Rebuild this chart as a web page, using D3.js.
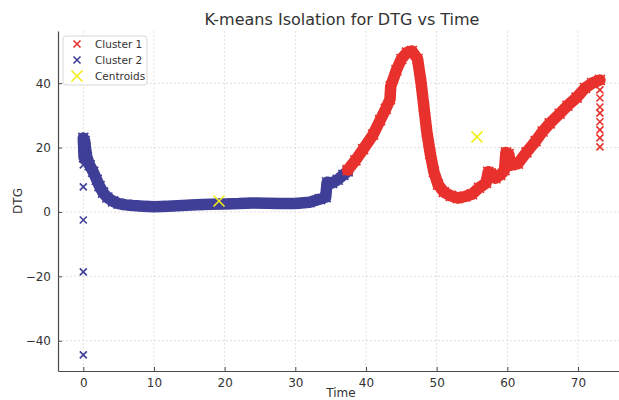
<!DOCTYPE html>
<html>
<head>
<meta charset="utf-8">
<script src="https://cdn.jsdelivr.net/npm/d3@7"></script>
<style>
  body { margin: 0; background: #fff; }
  text { font-family: "DejaVu Sans", sans-serif; fill: #333; }
</style>
</head>
<body>
<div id="chart-area"></div>
<script>
// size of the page
const width = 619;
const height = 400;

// Cluster 2 (blue)
const cluster2Time = [0, 0.1, 0.2, 0.3, 0.5, 0.9, 1.4, 1.9, 2.3, 2.8, 3.4, 4.2, 5, 6, 7, 8.5, 10, 12, 14, 16, 18, 20, 22, 24, 26, 28, 30, 32, 33.5, 34.3, 34.5, 35.2, 36, 36.8, 37.4];
const cluster2DTG = [23, 17, 22, 20, 17, 14.5, 12.5, 10, 8, 6, 4.5, 3.3, 2.6, 2.2, 2, 1.8, 1.6, 1.8, 2, 2.2, 2.4, 2.5, 2.6, 2.8, 2.7, 2.6, 2.6, 3.0, 4.0, 4.6, 9.2, 9, 10, 11.5, 12.6];
// stray cluster 2 points at Time 0
const cluster2OutTime = [0, 0, 0, 0, 0];
const cluster2OutDTG = [14.6, 7.8, -2.5, -18.6, -44.4];

// Cluster 1 (red)
const cluster1Time = [37.4, 38.5, 39.6, 41, 42, 42.8, 43.4, 43.5, 44.3, 45, 45.8, 46.5, 47.3, 47.8, 48.2, 48.6, 49.1, 49.6, 50.2, 51, 52, 53, 54, 55, 56, 57, 57.3, 57.7, 58.3, 59, 59.6, 59.8, 60.2, 60.5, 61.5, 62.7, 64, 65, 66, 67.4, 68.5, 69.8, 71, 72, 73.1];
const cluster1DTG = [13, 16, 19.5, 24, 28.5, 32, 35, 39, 44, 47.5, 49.5, 50, 47.5, 40, 32.5, 25, 18, 12.5, 8.5, 6.2, 5, 4.3, 4.8, 5.5, 7.5, 9, 12.5, 12, 10.5, 11.5, 13, 18.5, 18, 14.5, 15, 18.5, 22, 25, 27.5, 30.5, 33, 35.5, 38.5, 40, 41];
// stacked cluster 1 points at the end
const cluster1EndTime = [73.1, 73.1, 73.1, 73.1, 73.1, 73.1, 73.1, 73.1];
const cluster1EndDTG = [37.9, 35.4, 32.6, 30.7, 28, 25.5, 23, 20.2];

// centroids
const centroidTime = [19.2, 55.7];
const centroidDTG = [3.4, 23.3];

const xTicks = [0, 10, 20, 30, 40, 50, 60, 70];
const yTicks = [-40, -20, 0, 20, 40];
const legendLabels = ["Cluster 1", "Cluster 2", "Centroids"];

const red = "#e8312d";
const blue = "#3f3f98";
const yellow = "#f2ee1a";

const zip = (a, b) => a.map((t, i) => [t, b[i]]);

let xScale = d3.scaleLinear().domain([-3.58, 75.8]).range([58, 619]);
let yScale = d3.scaleLinear().domain([-49.4, 56.2]).range([371, 31]);

let svg = d3.select("#chart-area")
  .append("svg")
  .attr("width", width)
  .attr("height", height);

// grid
svg.append("g").selectAll("line")
  .data(xTicks).enter().append("line")
  .attr("x1", d => xScale(d)).attr("x2", d => xScale(d))
  .attr("y1", 31).attr("y2", 371)
  .attr("stroke", "#ddd5d5").attr("stroke-dasharray", "2,2").attr("stroke-width", 0.8);
svg.append("g").selectAll("line")
  .data(yTicks).enter().append("line")
  .attr("x1", 58).attr("x2", 619)
  .attr("y1", d => yScale(d)).attr("y2", d => yScale(d))
  .attr("stroke", "#ddd5d5").attr("stroke-dasharray", "2,2").attr("stroke-width", 0.8);

// x marker shape
function cross(s) {
  return `M${-s},${-s}L${s},${s}M${-s},${s}L${s},${-s}`;
}

let line = d3.line().x(d => xScale(d[0])).y(d => yScale(d[1]));

function drawCluster(pts, color) {
  svg.append("path")
    .datum(pts)
    .attr("d", line)
    .attr("fill", "none")
    .attr("stroke", color)
    .attr("stroke-width", 11.5)
    .attr("stroke-linejoin", "round")
    .attr("stroke-linecap", "round");
  drawMarks(pts, color, 5);
}

function drawMarks(pts, color, s) {
  svg.append("g").selectAll("path")
    .data(pts).enter().append("path")
    .attr("d", cross(s))
    .attr("transform", d => `translate(${xScale(d[0])},${yScale(d[1])})`)
    .attr("stroke", color)
    .attr("stroke-width", 1.6)
    .attr("fill", "none");
}

drawCluster(zip(cluster2Time, cluster2DTG), blue);
drawMarks(zip(cluster2OutTime, cluster2OutDTG), blue, 3.5);
drawCluster(zip(cluster1Time, cluster1DTG), red);
drawMarks(zip(cluster1EndTime, cluster1EndDTG), red, 3.5);
drawMarks(zip(centroidTime, centroidDTG), yellow, 5.5);

// axes
let xAxis = d3.axisBottom(xScale).tickValues(xTicks).tickSizeInner(-4).tickSizeOuter(0).tickPadding(7);
let yAxis = d3.axisLeft(yScale).tickValues(yTicks).tickSizeInner(-4).tickSizeOuter(0).tickPadding(7)
  .tickFormat(d => d < 0 ? "\u2212" + Math.abs(d) : d);

let gx = svg.append("g")
  .attr("transform", "translate(0,371)")
  .call(xAxis);
let gy = svg.append("g")
  .attr("transform", "translate(58,0)")
  .call(yAxis);
[gx, gy].forEach(g => {
  g.select(".domain").attr("stroke", "#4a4a4a").attr("stroke-width", 1.2);
  g.selectAll(".tick line").attr("stroke", "#4a4a4a");
  g.selectAll("text").attr("font-size", 12).attr("fill", "#333").attr("font-family", "DejaVu Sans");
});

// labels
svg.append("text")
  .attr("x", 342).attr("y", 25)
  .attr("text-anchor", "middle")
  .attr("font-size", 16)
  .text("K-means Isolation for DTG vs Time");

svg.append("text")
  .attr("x", 341).attr("y", 397)
  .attr("text-anchor", "middle")
  .attr("font-size", 12)
  .text("Time");

svg.append("text")
  .attr("transform", "translate(22,201) rotate(-90)")
  .attr("text-anchor", "middle")
  .attr("font-size", 12)
  .text("DTG");

// legend
let legend = svg.append("g").attr("transform", "translate(63,36)");
legend.append("rect")
  .attr("width", 84).attr("height", 49)
  .attr("rx", 3)
  .attr("fill", "#fff").attr("fill-opacity", 0.85)
  .attr("stroke", "#d8d8d8");
const legendColors = [red, blue, yellow];
const legendSizes = [3.5, 3.5, 5.5];
legendLabels.forEach((lab, i) => {
  legend.append("path")
    .attr("d", cross(legendSizes[i]))
    .attr("transform", `translate(14,${8 + i * 16})`)
    .attr("stroke", legendColors[i]).attr("stroke-width", 1.6);
  legend.append("text")
    .attr("x", 32).attr("y", 12 + i * 16)
    .attr("font-size", 10.5)
    .text(lab);
});
</script>
</body>
</html>
